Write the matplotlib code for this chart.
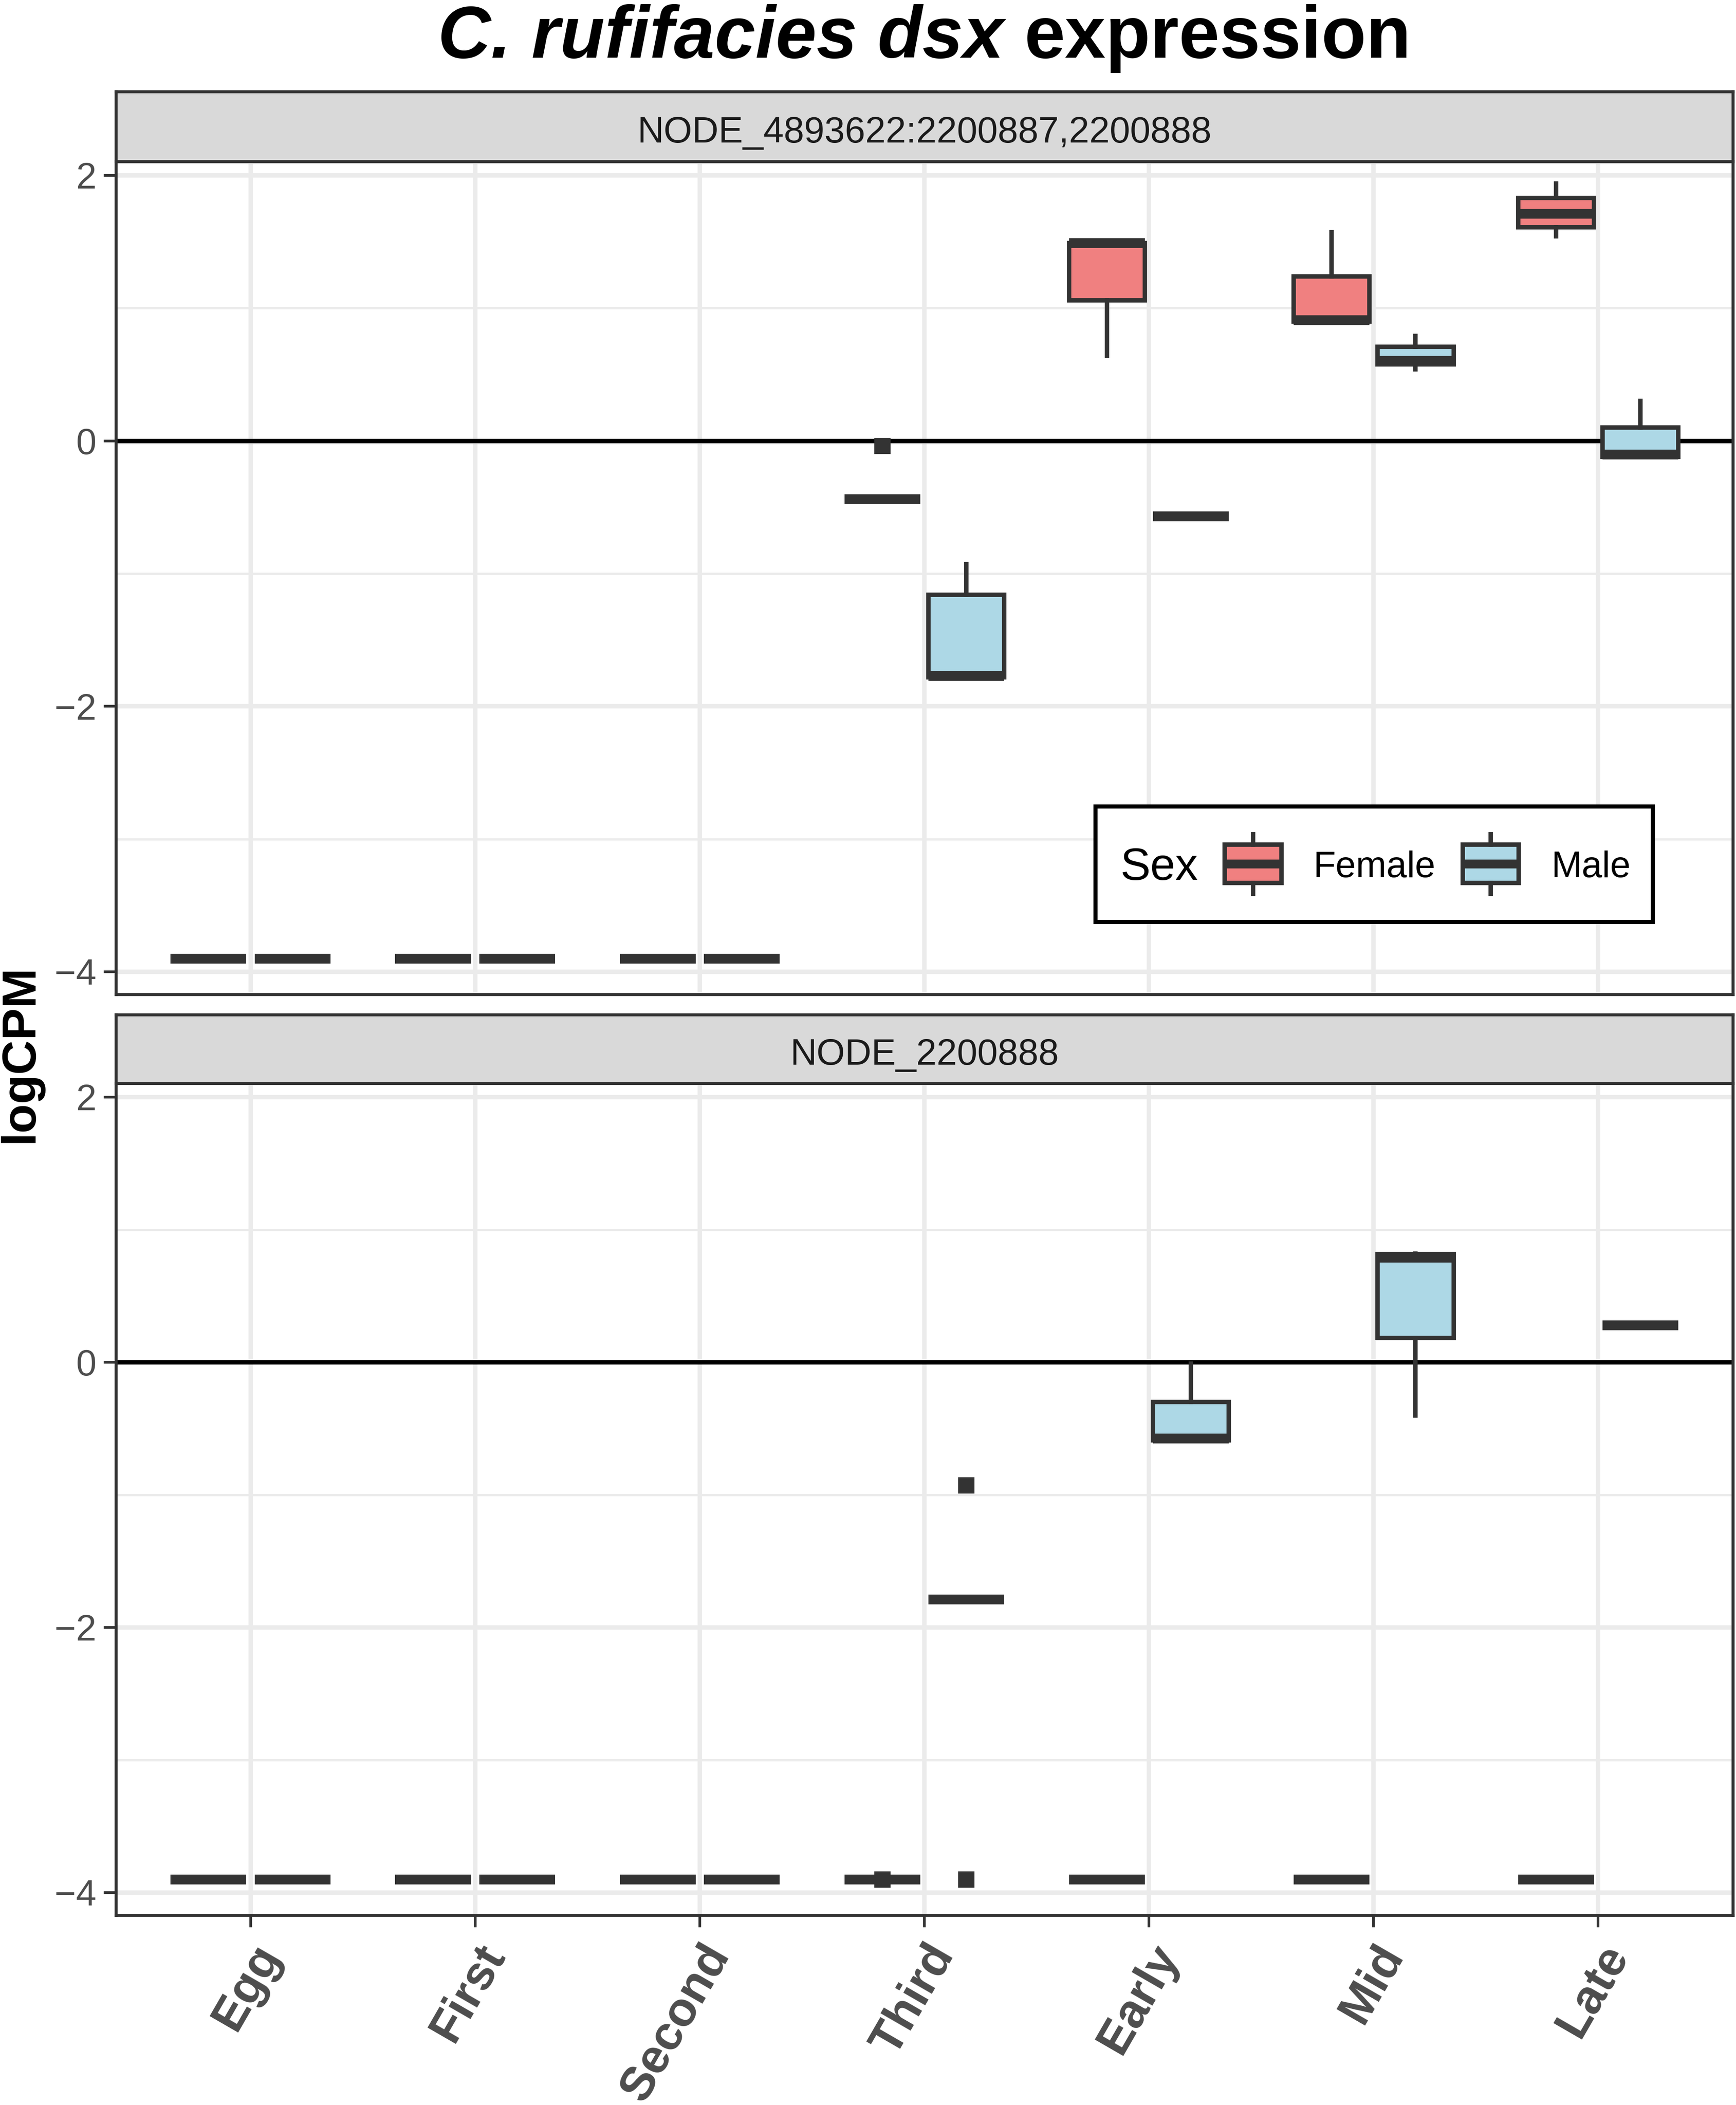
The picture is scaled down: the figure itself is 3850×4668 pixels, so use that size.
import matplotlib
matplotlib.use("Agg")
import matplotlib.pyplot as plt
from matplotlib.patches import Rectangle
from matplotlib.lines import Line2D

plt.rcParams['font.family'] = ['Liberation Sans', 'DejaVu Sans']

# ── Data ─────────────────────────────────────────────────────────────────────
STAGES = ["Egg", "First", "Second", "Third", "Early", "Mid", "Late"]
SEXES  = ["Female", "Male"]
PANELS = ["NODE_4893622:2200887,2200888", "NODE_2200888"]

# five-number summaries per stage: (whislo, q1, med, q3, whishi)
top_female = [(-3.9, -3.9, -3.9, -3.9, -3.9),
              (-3.9, -3.9, -3.9, -3.9, -3.9),
              (-3.9, -3.9, -3.9, -3.9, -3.9),
              (-0.44, -0.44, -0.44, -0.44, -0.44),
              (0.64, 1.06, 1.49, 1.49, 1.49),
              (0.90, 0.90, 0.91, 1.24, 1.57),
              (1.54, 1.61, 1.71, 1.83, 1.94)]
top_female_out = [[], [], [], [-0.04], [], [], []]

top_male = [(-3.9, -3.9, -3.9, -3.9, -3.9),
            (-3.9, -3.9, -3.9, -3.9, -3.9),
            (-3.9, -3.9, -3.9, -3.9, -3.9),
            (-1.78, -1.78, -1.77, -1.16, -0.93),
            (-0.57, -0.57, -0.57, -0.57, -0.57),
            (0.54, 0.575, 0.605, 0.71, 0.79),
            (-0.12, -0.12, -0.105, 0.10, 0.30)]
top_male_out = [[], [], [], [], [], [], []]

bot_female = [(-3.9, -3.9, -3.9, -3.9, -3.9),
              (-3.9, -3.9, -3.9, -3.9, -3.9),
              (-3.9, -3.9, -3.9, -3.9, -3.9),
              (-3.9, -3.9, -3.9, -3.9, -3.9),
              (-3.9, -3.9, -3.9, -3.9, -3.9),
              (-3.9, -3.9, -3.9, -3.9, -3.9),
              (-3.9, -3.9, -3.9, -3.9, -3.9)]
bot_female_out = [[], [], [], [-3.9], [], [], []]

bot_male = [(-3.9, -3.9, -3.9, -3.9, -3.9),
            (-3.9, -3.9, -3.9, -3.9, -3.9),
            (-3.9, -3.9, -3.9, -3.9, -3.9),
            (-1.79, -1.79, -1.79, -1.79, -1.79),
            (-0.59, -0.59, -0.575, -0.30, -0.01),
            (-0.40, 0.185, 0.79, 0.815, 0.82),
            (0.28, 0.28, 0.28, 0.28, 0.28)]
bot_male_out = [[], [], [], [-0.93, -3.9], [], [], []]

PANEL_DATA = [
    {"Female": (top_female, top_female_out), "Male": (top_male, top_male_out)},
    {"Female": (bot_female, bot_female_out), "Male": (bot_male, bot_male_out)},
]

FILLS  = {"Female": "#F08080", "Male": "#ADD8E6"}
OFFSET = {"Female": -0.1875, "Male": 0.1875}
EDGE   = "#333333"
GRID   = "#EBEBEB"
TXT    = "#4D4D4D"

# ── Figure / layout (pixel boxes measured on the reference) ───────────────────
W, H, DPI = 3850, 4668, 300
fig = plt.figure(figsize=(W / DPI, H / DPI), dpi=DPI, facecolor="white")


def px_box(x0, y0, x1, y1):
    return [x0 / W, 1 - y1 / H, (x1 - x0) / W, (y1 - y0) / H]


LEFT, RIGHT = 257, 3843
panel_rows = [(203, 358, 2205), (2250, 2402, 4247)]

axes = []
for p, (s_top, p_top, p_bot) in enumerate(panel_rows):
    ax = fig.add_axes(px_box(LEFT, p_top, RIGHT, p_bot))
    st = fig.add_axes(px_box(LEFT, s_top, RIGHT, p_top))

    # strip
    st.set_facecolor("#D9D9D9")
    st.set_xticks([]); st.set_yticks([])
    for sp in st.spines.values():
        sp.set_color(EDGE); sp.set_linewidth(1.6)
    st.text(0.5, 0.27, PANELS[p], transform=st.transAxes, ha="center",
            va="baseline", fontsize=19.5, color="#1A1A1A")

    # panel
    ax.set_xlim(0.4, 7.6)
    ax.set_ylim(-4.17, 2.105)
    ax.set_xticks(range(1, len(STAGES) + 1))
    ax.set_yticks([-4, -2, 0, 2])
    ax.set_yticks([-3, -1, 1], minor=True)
    ax.set_yticklabels(["\u22124", "\u22122", "0", "2"])
    ax.set_axisbelow(True)
    ax.grid(which="major", color=GRID, lw=2.35)
    ax.grid(which="minor", axis="y", color=GRID, lw=1.2)
    for sp in ax.spines.values():
        sp.set_color(EDGE); sp.set_linewidth(1.6)
    ax.tick_params(which="major", length=6.5, width=1.4, color=EDGE,
                   labelsize=19.5, labelcolor=TXT, pad=3.8)
    ax.tick_params(which="minor", length=0)
    ax.axhline(0, color="black", lw=2.4, zorder=2)

    for sex in SEXES:
        five, outs = PANEL_DATA[p][sex]
        stats = [dict(whislo=f[0], q1=f[1], med=f[2], q3=f[3], whishi=f[4],
                      fliers=o) for f, o in zip(five, outs)]
        pos = [i + 1 + OFFSET[sex] for i in range(len(STAGES))]
        ax.bxp(stats, positions=pos, widths=0.3375, patch_artist=True,
               showcaps=False, manage_ticks=False, zorder=3,
               boxprops=dict(facecolor=FILLS[sex], edgecolor=EDGE, linewidth=2.35),
               medianprops=dict(color=EDGE, linewidth=5.2, solid_capstyle="butt"),
               whiskerprops=dict(color=EDGE, linewidth=2.35),
               flierprops=dict(marker="s", markersize=7.5, markerfacecolor=EDGE,
                               markeredgecolor=EDGE))
    axes.append(ax)

ax_top, ax_bot = axes
ax_top.tick_params(axis="x", length=0, labelbottom=False)
ax_bot.set_xticklabels(STAGES, rotation=60, ha="right", va="top",
                       rotation_mode="anchor", fontsize=25.5, fontweight="bold",
                       color=TXT)
ax_bot.tick_params(axis="x", pad=5)

# ── Overlay (pixel coordinates) for title, y label, legend ────────────────────
ov = fig.add_axes([0, 0, 1, 1])
ov.set_xlim(0, W); ov.set_ylim(H, 0); ov.axis("off")
ov.set_zorder(10)

r = fig.canvas.get_renderer()
t1 = ov.text(0, 128, "C. rufifacies dsx", fontsize=39, fontweight="bold",
             fontstyle="italic", va="baseline", ha="left")
t2 = ov.text(0, 128, "expression", fontsize=39, fontweight="bold",
             va="baseline", ha="left")
w1 = t1.get_window_extent(r).width
w2 = t2.get_window_extent(r).width
space = 0.278 * 39 * DPI / 72
x0 = (LEFT + RIGHT) / 2 - (w1 + space + w2) / 2
t1.set_x(x0)
t2.set_x(x0 + w1 + space)

ov.text(45, 2336, "logCPM", rotation=90, fontsize=25.5, fontweight="bold",
        ha="center", va="center")

# legend
ov.add_patch(Rectangle((2429, 1788), 1236, 256, facecolor="white",
                       edgecolor="black", lw=2.2))
ov.text(2484, 1951, "Sex", fontsize=24, va="baseline", ha="left")
for sex, (bx0, bx1, tx) in zip(SEXES, [(2716, 2842, 2912), (3244, 3368, 3440)]):
    ov.add_patch(Rectangle((bx0, 1873), bx1 - bx0, 85, facecolor=FILLS[sex],
                           edgecolor=EDGE, lw=2.35))
    cx = (bx0 + bx1) / 2
    ov.add_line(Line2D([bx0, bx1], [1916, 1916], color=EDGE, lw=4.7,
                       solid_capstyle="butt"))
    ov.add_line(Line2D([cx, cx], [1850, 1873], color=EDGE, lw=2.35))
    ov.add_line(Line2D([cx, cx], [1958, 1982], color=EDGE, lw=2.35))
    ov.text(tx, 1945, sex, fontsize=19.5, va="baseline", ha="left")

fig.savefig("out.png", dpi=DPI, facecolor="white")
